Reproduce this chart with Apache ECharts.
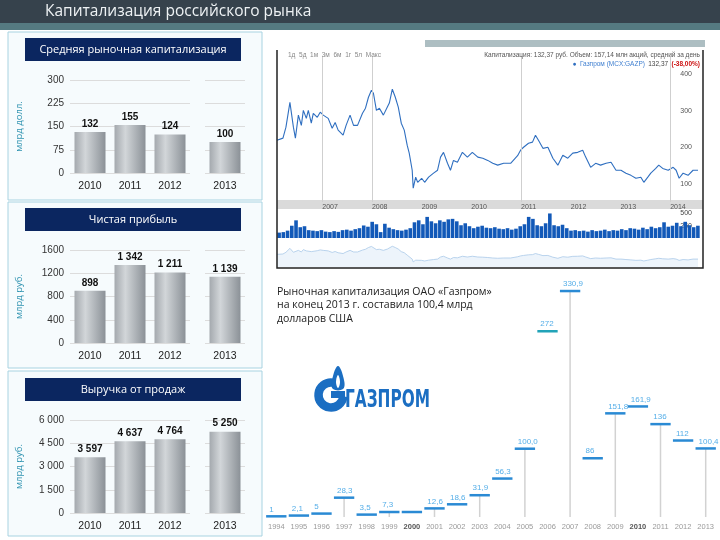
<!DOCTYPE html>
<html>
<head>
<meta charset="utf-8">
<script src="https://cdn.jsdelivr.net/npm/echarts@6/dist/echarts.min.js"></script>
<style>
  html, body { margin: 0; padding: 0; background: #fff; }
  #main { width: 720px; height: 540px; }
</style>
</head>
<body>
<div id="main"></div>
<script>
'use strict';
/*--data--*/
var firstYears = ['2010', '2011', '2012'];
var lastYear = ['2013'];
var capValues = [132, 155, 124, 100];
var profitValues = [898, 1342, 1211, 1139];
var revenueValues = [3597, 4637, 4764, 5250];

var gzYears = ['1994', '1995', '1996', '1997', '1998', '1999', '2000', '2001', '2002', '2003',
  '2004', '2005', '2006', '2007', '2008', '2009', '2010', '2011', '2012', '2013'];
var gzCap = [1, 2.1, 5, 28.3, 3.5, 7.3, 7.3, 12.6, 18.6, 31.9, 56.3, 100.0, 272, 330.9, 86, 151.8, 161.9, 136, 112, 100.4];
var gzLabels = ['1', '2,1', '5', '28,3', '3,5', '7,3', '', '12,6', '18,6', '31,9', '56,3', '100,0', '272', '330,9', '86', '151,8', '161,9', '136', '112', '100,4'];
var gzStemYears = ['1997', '1999', '2001', '2003', '2005', '2007', '2009', '2011', '2013'];

var priceYears = [
  2006.09, 2006.21, 2006.27, 2006.35, 2006.42, 2006.46, 2006.52, 2006.58, 2006.62, 2006.68, 2006.72, 2006.78, 2006.82, 2006.90, 2006.96,
  2007.02, 2007.12, 2007.20, 2007.26, 2007.32, 2007.42, 2007.48, 2007.56, 2007.63, 2007.71, 2007.81, 2007.87, 2007.93, 2007.99,
  2008.03, 2008.09, 2008.15, 2008.23, 2008.31, 2008.35, 2008.41, 2008.47, 2008.53, 2008.59, 2008.65, 2008.71, 2008.75, 2008.81, 2008.83, 2008.88, 2008.92,
  2009.00, 2009.06, 2009.14, 2009.24, 2009.32, 2009.38, 2009.44, 2009.52, 2009.58, 2009.64, 2009.72, 2009.82, 2009.92,
  2010.02, 2010.13, 2010.23, 2010.33, 2010.43, 2010.53, 2010.65, 2010.79, 2010.93, 2010.99,
  2011.05, 2011.15, 2011.23, 2011.29, 2011.35, 2011.44, 2011.54, 2011.64, 2011.74, 2011.84, 2011.94,
  2012.04, 2012.14, 2012.24, 2012.30, 2012.40, 2012.50, 2012.60, 2012.71, 2012.81, 2012.91,
  2013.01, 2013.11, 2013.21, 2013.31, 2013.41, 2013.47, 2013.55, 2013.61, 2013.71, 2013.77, 2013.85, 2013.96,
  2014.06, 2014.12, 2014.18, 2014.26, 2014.36, 2014.46, 2014.56
];
var priceValues = [
  219, 225, 255, 323, 255, 225, 288, 260, 301, 279, 301, 266, 293, 282, 296,
  288, 279, 252, 268, 247, 233, 260, 288, 260, 260, 293, 307, 337, 356,
  348, 301, 307, 288, 310, 321, 359, 337, 310, 266, 247, 205, 184, 137, 88, 118, 104,
  115, 104, 118, 129, 137, 173, 186, 156, 137, 164, 159, 186, 173,
  186, 173, 170, 164, 156, 151, 156, 156, 177, 192,
  200, 211, 214, 233, 219, 197, 200, 170, 151, 178, 170,
  184, 186, 192, 173, 145, 156, 151, 156, 159, 137,
  137, 129, 123, 115, 118, 104, 118, 129, 142, 151, 142, 137,
  145, 137, 115, 129, 123, 137, 137
];
var priceGridYears = [2007, 2008, 2011, 2014];
var priceTicks = [100, 200, 300, 400];
var priceYearTicks = [2007, 2008, 2009, 2010, 2011, 2012, 2013, 2014];

var volumeValues = [
  110, 120, 150, 250, 360, 220, 240, 160, 150, 140, 160, 130, 120, 140, 125, 160, 170, 150, 180, 200,
  255, 230, 330, 280, 120, 290, 210, 180, 160, 150, 170, 200, 320, 360, 280, 430, 340, 300, 360, 330,
  380, 390, 340, 260, 300, 240, 200, 230, 250, 210, 200, 220, 190, 180, 200, 170, 190, 240, 280, 430,
  390, 260, 240, 300, 500, 260, 240, 270, 200, 150, 160, 140, 150, 130, 160, 140, 150, 170, 140, 160,
  150, 180, 160, 200, 190, 170, 210, 180, 230, 200, 220, 320, 230, 250, 310, 240, 330, 260, 220, 250
];
var volumeTicks = [250, 500];

/*--helpers--*/
function spaced(v) {
  return String(v).replace(/\B(?=(\d{3})+(?!\d))/g, ' ');
}
var barFill = {
  type: 'linear', x: 0, y: 0, x2: 1, y2: 0,
  colorStops: [
    { offset: 0, color: '#a4a9ae' },
    { offset: 0.35, color: '#d2d6d9' },
    { offset: 1, color: '#8b9197' }
  ]
};

var panels = [
  { top: 80, values: capValues, max: 300, interval: 75, name: 'млрд долл.', tick: String },
  { top: 250, values: profitValues, max: 1600, interval: 400, name: 'млрд руб.', tick: String },
  { top: 420, values: revenueValues, max: 6000, interval: 1500, name: 'млрд руб.', tick: spaced }
];

var grids = [], xAxes = [], yAxes = [], series = [];

panels.forEach(function (p) {
  [[firstYears, 70, 120, p.values.slice(0, 3)], [lastYear, 205, 40, p.values.slice(3)]].forEach(function (part, j) {
    var gi = grids.length;
    grids.push({ left: part[1], top: p.top, width: part[2], height: 93, outerBoundsMode: 'none' });
    xAxes.push({
      type: 'category', gridIndex: gi, data: part[0],
      axisLine: { show: false }, axisTick: { show: false },
      axisLabel: { fontSize: 10.5, color: '#222', margin: 8, fontFamily: 'Liberation Sans' }
    });
    yAxes.push({
      type: 'value', gridIndex: gi, min: 0, max: p.max, interval: p.interval,
      name: j === 0 ? p.name : '', nameLocation: 'middle', nameRotate: 90, nameGap: 46,
      nameTextStyle: { color: '#2f93b0', fontSize: 9.5, fontFamily: 'Open Sans' },
      axisLine: { show: false }, axisTick: { show: false },
      axisLabel: { show: j === 0, fontSize: 10, color: '#333', margin: 6, fontFamily: 'Liberation Sans', formatter: p.tick },
      splitLine: { lineStyle: { color: '#dcdcdc', width: 1 } }
    });
    series.push({
      type: 'bar', xAxisIndex: gi, yAxisIndex: gi, data: part[3], barWidth: 31,
      itemStyle: { color: barFill },
      label: {
        show: true, position: 'top', distance: 3, fontSize: 10, fontWeight: 'bold',
        color: '#111', fontFamily: 'Liberation Sans', formatter: function (d) { return spaced(d.value); }
      }
    });
  });
});

/*--price chart--*/
grids.push({ left: 277, top: 56, width: 423, height: 146, outerBoundsMode: 'none' });
xAxes.push({
  type: 'value', gridIndex: 6, min: 2006.09, max: 2014.6,
  axisLine: { show: false }, axisTick: { show: false }, splitLine: { show: false },
  axisLabel: {
    customValues: priceYearTicks, fontSize: 7, color: '#555', align: 'left', margin: 2,
    fontFamily: 'Liberation Sans', formatter: function (v) { return String(v); }
  }
});
yAxes.push({
  type: 'value', gridIndex: 6, min: 50, max: 450, position: 'right',
  axisLine: { show: false }, axisTick: { show: false }, splitLine: { show: false },
  axisLabel: { customValues: priceTicks, inside: true, fontSize: 7, color: '#555', fontFamily: 'Liberation Sans' }
});
series.push({
  type: 'line', xAxisIndex: 6, yAxisIndex: 6, symbol: 'none',
  data: priceYears.map(function (y, i) { return [y, priceValues[i]]; }),
  lineStyle: { color: '#2f6fc0', width: 1.1 },
  markLine: {
    silent: true, symbol: 'none', label: { show: false },
    lineStyle: { color: '#cfcfcf', type: 'solid', width: 1 },
    data: priceGridYears.map(function (y) { return { xAxis: y }; })
  }
});

/*--volume--*/
grids.push({ left: 277, top: 211, width: 423, height: 27, outerBoundsMode: 'none' });
xAxes.push({
  type: 'category', gridIndex: 7, data: volumeValues.map(function (v, i) { return i; }),
  axisLine: { show: false }, axisTick: { show: false }, axisLabel: { show: false }
});
yAxes.push({
  type: 'value', gridIndex: 7, min: 0, max: 550, position: 'right',
  axisLine: { show: false }, axisTick: { show: false }, splitLine: { show: false },
  axisLabel: { customValues: volumeTicks, inside: true, fontSize: 7, color: '#444', fontFamily: 'Liberation Sans' }
});
series.push({
  type: 'bar', xAxisIndex: 7, yAxisIndex: 7, data: volumeValues, barCategoryGap: '15%',
  itemStyle: { color: '#1259b8' }
});

/*--navigator--*/
grids.push({ left: 277, top: 241, width: 423, height: 26, outerBoundsMode: 'none' });
xAxes.push({ type: 'value', gridIndex: 8, min: 2006.09, max: 2014.6, show: false });
yAxes.push({ type: 'value', gridIndex: 8, min: 0, max: 450, show: false });
series.push({
  type: 'line', xAxisIndex: 8, yAxisIndex: 8, symbol: 'none',
  data: priceYears.map(function (y, i) { return [y, priceValues[i]]; }),
  lineStyle: { color: '#a9c9e8', width: 0.8 },
  areaStyle: { color: '#e6f0fa' }
});

/*--gazprom capitalization timeline--*/
grids.push({ left: 265, top: 278, width: 452, height: 239, outerBoundsMode: 'none' });
xAxes.push({
  type: 'category', gridIndex: 9, data: gzYears,
  axisLine: { show: false }, axisTick: { show: false },
  axisLabel: {
    interval: 0, margin: 6, fontSize: 7.5, color: '#9a9a9a', fontFamily: 'Liberation Sans',
    formatter: function (v) { return (v === '2000' || v === '2010') ? '{b|' + v + '}' : v; },
    rich: { b: { fontSize: 7.5, fontWeight: 'bold', color: '#555', fontFamily: 'Liberation Sans' } }
  }
});
yAxes.push({ type: 'value', gridIndex: 9, min: 0, max: 350, show: false });
series.push({
  type: 'custom', xAxisIndex: 9, yAxisIndex: 9,
  data: gzCap.map(function (v, i) { return [i, v]; }),
  renderItem: function (params, api) {
    var i = params.dataIndex;
    var p = api.coord([api.value(0), api.value(1)]);
    var base = api.coord([api.value(0), 0]);
    var w = api.size([1, 0])[0] * 0.9;
    var kids = [];
    if (gzStemYears.indexOf(gzYears[i]) >= 0) {
      kids.push({ type: 'line', shape: { x1: p[0], y1: base[1], x2: p[0], y2: p[1] },
        style: { stroke: '#d2d2d2', lineWidth: 1.5 } });
    }
    kids.push({ type: 'line', shape: { x1: p[0] - w / 2, y1: p[1], x2: p[0] + w / 2, y2: p[1] },
      style: { stroke: i === 12 ? '#22a3b8' : '#2a8ad4', lineWidth: 2.5 } });
    if (gzLabels[i]) {
      kids.push({ type: 'text', x: p[0] - w / 2 + 3, y: p[1] - 3,
        style: { text: gzLabels[i], fill: '#55aee8', font: '8px "Liberation Sans"', verticalAlign: 'bottom' } });
    }
    return { type: 'group', children: kids };
  }
});

/*--slide decoration--*/
var graphics = [
  { type: 'rect', shape: { x: 0, y: 0, width: 720, height: 23 }, style: { fill: '#36424c' }, z: -5 },
  { type: 'rect', shape: { x: 0, y: 23, width: 720, height: 7 }, style: { fill: '#557a81' }, z: -5 },
  { type: 'text', x: 45, y: 11.5, style: { text: 'Капитализация российского рынка', fill: '#eef2f4',
    font: '15.5px "Open Sans"', verticalAlign: 'middle' }, z: 10 },
  { type: 'rect', shape: { x: 8, y: 32, width: 254, height: 168 }, style: { fill: '#f6fbfd', stroke: '#a8d3e1', lineWidth: 1 }, z: -5 },
  { type: 'rect', shape: { x: 8, y: 202, width: 254, height: 166 }, style: { fill: '#f6fbfd', stroke: '#a8d3e1', lineWidth: 1 }, z: -5 },
  { type: 'rect', shape: { x: 8, y: 371, width: 254, height: 165 }, style: { fill: '#f6fbfd', stroke: '#a8d3e1', lineWidth: 1 }, z: -5 },
  { type: 'rect', shape: { x: 25, y: 38, width: 216, height: 23 }, style: { fill: '#0b2660' }, z: 5 },
  { type: 'rect', shape: { x: 25, y: 208, width: 216, height: 23 }, style: { fill: '#0b2660' }, z: 5 },
  { type: 'rect', shape: { x: 25, y: 378, width: 216, height: 23 }, style: { fill: '#0b2660' }, z: 5 },
  { type: 'text', x: 133, y: 49.5, style: { text: 'Средняя рыночная капитализация', fill: '#fff', font: '11px "Open Sans"', align: 'center', verticalAlign: 'middle' }, z: 10 },
  { type: 'text', x: 133, y: 219.5, style: { text: 'Чистая прибыль', fill: '#fff', font: '11px "Open Sans"', align: 'center', verticalAlign: 'middle' }, z: 10 },
  { type: 'text', x: 133, y: 389.5, style: { text: 'Выручка от продаж', fill: '#fff', font: '11px "Open Sans"', align: 'center', verticalAlign: 'middle' }, z: 10 },

  { type: 'rect', shape: { x: 425, y: 40, width: 280, height: 7 }, style: { fill: '#adbec2' }, z: -5 },
  { type: 'rect', shape: { x: 277, y: 200, width: 426, height: 9 }, style: { fill: '#dadada' }, z: -5 },
  { type: 'polyline', shape: { points: [[277, 50], [277, 268], [703, 268], [703, 50]] }, style: { stroke: '#222', lineWidth: 1.5, fill: null }, z: 10 },
  { type: 'text', x: 288, y: 55, style: { text: '1д  5д  1м  3м  6м  1г  5л  Макс', fill: '#888', font: '6.5px "Liberation Sans"', verticalAlign: 'middle' }, z: 10 },
  { type: 'text', x: 700, y: 55, style: { text: 'Капитализация: 132,37 руб. Объем: 157,14 млн акций, средний за день', fill: '#555', font: '6.5px "Liberation Sans"', align: 'right', verticalAlign: 'middle' }, z: 10 },
  { type: 'text', x: 700, y: 64, style: {
    text: '{d|●} {n|Газпром (MCX:GAZP)} {v|132,37} {r|(-38,00%)}', align: 'right', verticalAlign: 'middle',
    rich: {
      d: { fill: '#2f6fc0', font: '6.5px "Liberation Sans"' },
      n: { fill: '#3f7fd0', font: '6.5px "Liberation Sans"' },
      v: { fill: '#444', font: '6.5px "Liberation Sans"' },
      r: { fill: '#cc1111', font: 'bold 6.5px "Liberation Sans"' }
    } }, z: 10 },

  { type: 'text', x: 277, y: 285, style: {
    text: 'Рыночная капитализация ОАО «Газпром»\nна конец 2013 г. составила 100,4 млрд\nдолларов США',
    fill: '#222', font: '10.5px "Open Sans"', lineHeight: 13.5 }, z: 10 },

  { type: 'arc', shape: { cx: 331, cy: 395, r: 12.5, startAngle: 0.04 * Math.PI, endAngle: 1.62 * Math.PI, clockwise: true },
    style: { stroke: '#1b6ec2', lineWidth: 8.5, fill: null }, z: 10 },
  { type: 'rect', shape: { x: 331, y: 391, width: 14, height: 7 }, style: { fill: '#1b6ec2' }, z: 10 },
  { type: 'polygon', shape: { points: [[338, 366], [344, 380], [343, 389], [333, 389], [332, 380]], smooth: 0.4 },
    style: { fill: '#1b6ec2' }, z: 11 },
  { type: 'polygon', shape: { points: [[338, 375], [340, 382], [338, 388], [336, 382]], smooth: 0.4 },
    style: { fill: '#ffffff' }, z: 12 },
  { type: 'text', x: 345, y: 401, scaleX: 0.64, originX: 0, originY: 0, style: { text: 'ГАЗПРОМ', fill: '#1b6ec2',
    font: 'bold 24px "DejaVu Sans"', verticalAlign: 'middle' }, z: 10 }
];

var chart = echarts.init(document.getElementById('main'));
chart.setOption({
  animation: false,
  backgroundColor: '#ffffff',
  grid: grids,
  xAxis: xAxes,
  yAxis: yAxes,
  series: series,
  graphic: graphics
});
</script>
</body>
</html>
